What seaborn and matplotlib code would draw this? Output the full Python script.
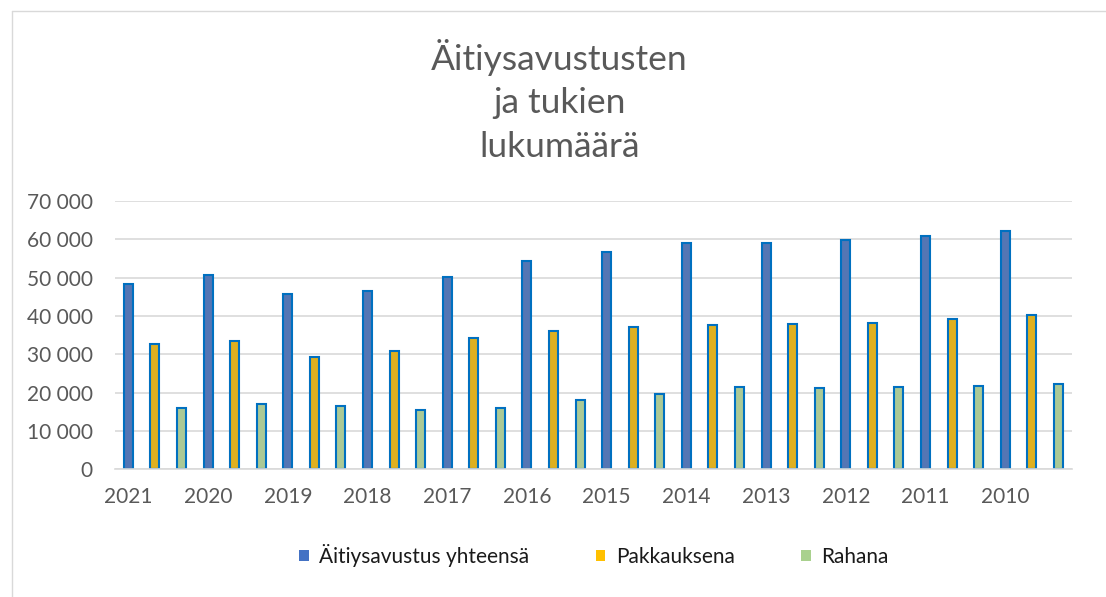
import numpy as np
import pandas as pd
import matplotlib
matplotlib.use("Agg")
import matplotlib.pyplot as plt
import seaborn as sns
from matplotlib.patches import Patch
from matplotlib.lines import Line2D

# Data
years = ["2021", "2020", "2019", "2018", "2017", "2016",
         "2015", "2014", "2013", "2012", "2011", "2010"]
total = [48500, 50600, 45700, 46600, 50300, 54300,
         56800, 59200, 59000, 59800, 61000, 62300]
package = [32600, 33500, 29200, 31000, 34400, 36000,
           37100, 37700, 37800, 38200, 39200, 40200]
cash = [16000, 17100, 16400, 15600, 15900, 18200,
        19600, 21500, 21100, 21600, 21700, 22200]
series = ["Äitiysavustus yhteensä", "Pakkauksena", "Rahana"]
colors = ["#4472C4", "#FFC000", "#A9D18E"]
yticks = [0, 10000, 20000, 30000, 40000, 50000, 60000, 70000]

df = pd.DataFrame({
    "vuosi": years * 3,
    "sarja": np.repeat(series, len(years)),
    "lukumaara": total + package + cash,
})

sns.set_style("white")
plt.rcParams["font.family"] = ["Lato", "DejaVu Sans"]

fig = plt.figure(figsize=(11.06, 5.97), dpi=100)
ax = fig.add_axes([0.104, 0.214, 0.865, 0.449])

sns.barplot(data=df, x="vuosi", y="lukumaara", hue="sarja", palette=colors,
            width=1.0, gap=0.66, edgecolor="#0070C0", linewidth=1.5,
            errorbar=None, legend=False, ax=ax)

ax.set_xlim(-0.5, len(years) - 0.5)
ax.set_ylim(0, 70000)
ax.set_yticks(yticks, [f"{v:,}".replace(",", " ") for v in yticks])
ax.set_xticks(np.arange(len(years)) - 1 / 3, years)
ax.set_xlabel("")
ax.set_ylabel("")
ax.yaxis.grid(True, color="#D9D9D9", linewidth=1.2)
ax.set_axisbelow(True)
for s in ["top", "right", "left"]:
    ax.spines[s].set_visible(False)
ax.spines["bottom"].set_color("#D9D9D9")
ax.spines["bottom"].set_linewidth(1.2)
ax.tick_params(axis="y", length=0, pad=16, labelsize=15, labelcolor="#595959")
ax.tick_params(axis="x", length=0, pad=13, labelsize=15, labelcolor="#595959")

fig.text(0.506, 0.831, "Äitiysavustusten\nja tukien\nlukumäärä",
         ha="center", va="center", fontsize=25.5, color="#595959",
         linespacing=1.45)

handles = [Patch(facecolor=c, edgecolor="none") for c in colors]
fig.legend(handles, series, loc="center", bbox_to_anchor=(0.537, 0.070),
           ncol=3, frameon=False, handlelength=0.45, handleheight=0.45,
           handletextpad=0.5, columnspacing=3.2, fontsize=15,
           labelcolor="#1a1a1a")

# chart area border
x0, y0 = 12 / 1106, 1 - 11 / 597
fig.add_artist(Line2D([x0, x0], [0, y0], transform=fig.transFigure,
                      color="#D9D9D9", linewidth=1))
fig.add_artist(Line2D([x0, 1], [y0, y0], transform=fig.transFigure,
                      color="#D9D9D9", linewidth=1))

fig.savefig("out.png", dpi=100, facecolor="white")
